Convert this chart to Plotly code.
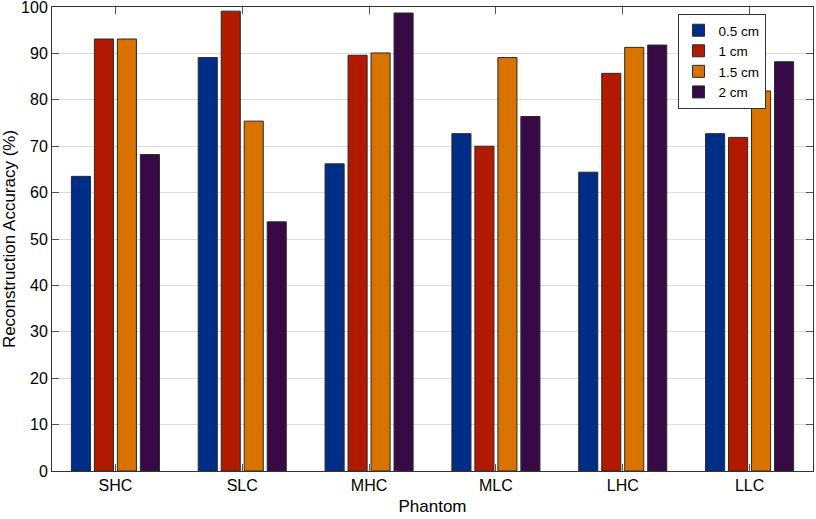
import plotly.graph_objects as go

categories = ["SHC", "SLC", "MHC", "MLC", "LHC", "LLC"]
series_names = ["0.5 cm", "1 cm", "1.5 cm", "2 cm"]
vals_05 = [63.5, 89.1, 66.2, 72.7, 64.4, 72.7]
vals_10 = [93.1, 99.1, 89.6, 70.0, 85.7, 71.9]
vals_15 = [93.1, 75.4, 90.1, 89.1, 91.3, 81.9]
vals_20 = [68.2, 53.7, 98.7, 76.4, 91.8, 88.2]
colors = ["#002e87", "#b21a00", "#d97300", "#370a46"]
y_ticks = list(range(0, 101, 10))

fig = go.Figure()
for name, vals, col in zip(series_names, [vals_05, vals_10, vals_15, vals_20], colors):
    fig.add_trace(go.Bar(x=categories, y=vals, name=name,
                         marker=dict(color=col, line=dict(color="#2a2a2a", width=1))))

font_family = "Liberation Sans, Arial, sans-serif"
fig.update_layout(
    width=816, height=519,
    margin=dict(l=52, r=3, t=7, b=48),
    paper_bgcolor="white", plot_bgcolor="white",
    barmode="group", bargap=0.275, bargroupgap=0.17,
    font=dict(family=font_family, size=16, color="black"),
    legend=dict(x=0.822, y=0.985, xanchor="left", yanchor="top",
                bgcolor="white", bordercolor="#333", borderwidth=1,
                font=dict(size=13.5), tracegroupgap=0, itemwidth=30),
    showlegend=True,
)
fig.update_xaxes(
    title=dict(text="Phantom", font=dict(size=17), standoff=6),
    showline=True, linecolor="#333", linewidth=1, mirror="ticks",
    ticks="inside", ticklen=7, tickcolor="#555",
    showgrid=False, range=[-0.5, 5.5], automargin=False,
)
fig.update_yaxes(
    title=dict(text="Reconstruction Accuracy (%)", font=dict(size=17), standoff=5),
    range=[0, 100], tickvals=y_ticks, ticklabeloverflow="allow",
    showline=True, linecolor="#333", linewidth=1, mirror="ticks",
    ticks="inside", ticklen=7, tickcolor="#555",
    showgrid=True, gridcolor="#dcdcdc", gridwidth=1, zeroline=False,
    automargin=False,
)
fig.write_html("out.html", config={"displayModeBar": False},
               post_script="document.body.style.margin='0';document.body.style.overflow='hidden';")
